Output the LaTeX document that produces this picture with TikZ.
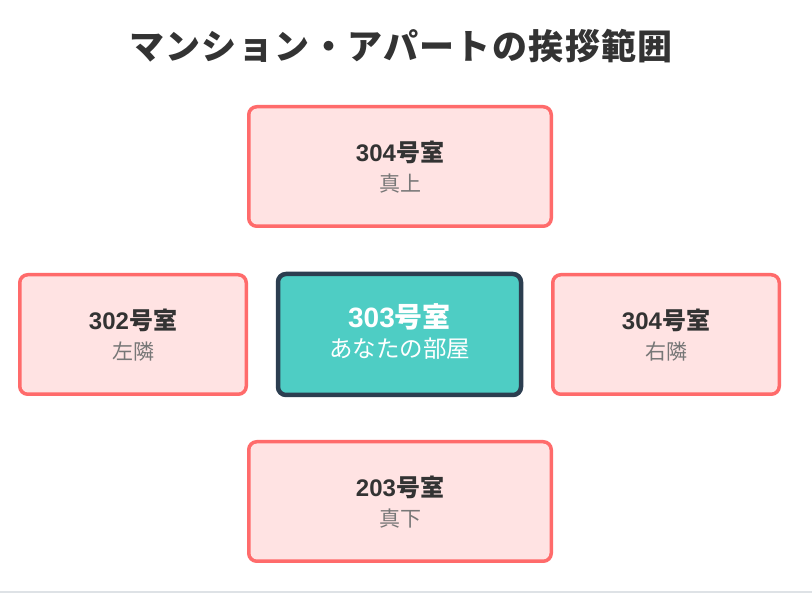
\documentclass[tikz,border=0pt]{standalone}
\usepackage{fontspec}
\setmainfont{Noto Sans CJK JP}
\newfontfamily\titlefont{Noto Sans CJK JP}[LetterSpace=4]
\newfontfamily\latinfont{Liberation Sans}
\newcommand{\dg}[1]{{\latinfont #1}}
\definecolor{pinkfill}{HTML}{FFE3E3}
\definecolor{pinkline}{HTML}{FF6B6B}
\definecolor{tealfill}{HTML}{4ECDC4}
\definecolor{navyline}{HTML}{2C3E50}
\definecolor{darktext}{HTML}{333333}
\definecolor{subtext}{HTML}{777777}
\definecolor{rule}{HTML}{DEE2E6}
\tikzset{
  room/.style={draw=pinkline, fill=pinkfill, line width=3.5pt, rounded corners=8pt, inner sep=0pt},
  mine/.style={draw=navyline, fill=tealfill, line width=4.5pt, rounded corners=8pt, inner sep=0pt},
  roomnum/.style={text=darktext, font=\fontsize{24}{28}\selectfont\bfseries, inner sep=0pt},
  roomsub/.style={text=subtext, font=\fontsize{21}{25}\selectfont, inner sep=0pt},
  minenum/.style={text=white, font=\fontsize{28}{32}\selectfont\bfseries, inner sep=0pt},
  minesub/.style={text=white, font=\fontsize{23.5}{28}\selectfont, inner sep=0pt},
  titlestyle/.style={text=darktext, font=\titlefont\fontsize{35}{40}\selectfont\bfseries, inner sep=0pt}
}
\begin{document}
\begin{tikzpicture}[x=1pt,y=-1pt]
\useasboundingbox[fill=white] (0,0) rectangle (812,609);
\node[titlestyle] (title) at (401,46) {マンション・アパートの挨拶範囲};
% rooms
\node[room, minimum width=302.5pt, minimum height=119.5pt] (up) at (400,166.5) {};
\node[room, minimum width=226.5pt, minimum height=119.5pt] (left) at (133,334.5) {};
\node[room, minimum width=226.5pt, minimum height=119.5pt] (right) at (666,334.5) {};
\node[room, minimum width=302.5pt, minimum height=119.5pt] (down) at (400,501.5) {};
\node[mine, minimum width=243pt, minimum height=121pt] (me) at (399.5,334.5) {};
% texts
\node[roomnum] (upa) at (400,152) {\dg{304}号室};
\node[roomsub] (upb) at (400,184) {真上};
\node[roomnum] (lefta) at (133,320) {\dg{302}号室};
\node[roomsub] (leftb) at (133,352) {左隣};
\node[roomnum] (righta) at (666,320) {\dg{304}号室};
\node[roomsub] (rightb) at (666,352) {右隣};
\node[roomnum] (downa) at (400,487) {\dg{203}号室};
\node[roomsub] (downb) at (400,519) {真下};
\node[minenum] (mea) at (399.5,317) {\dg{303}号室};
\node[minesub] (meb) at (399.5,349) {あなたの部屋};
% bottom rule
\coordinate (rl) at (0,592);
\coordinate (rr) at (812,592);
\draw[rule, line width=2pt] (rl) -- (rr);
\end{tikzpicture}
\end{document}
